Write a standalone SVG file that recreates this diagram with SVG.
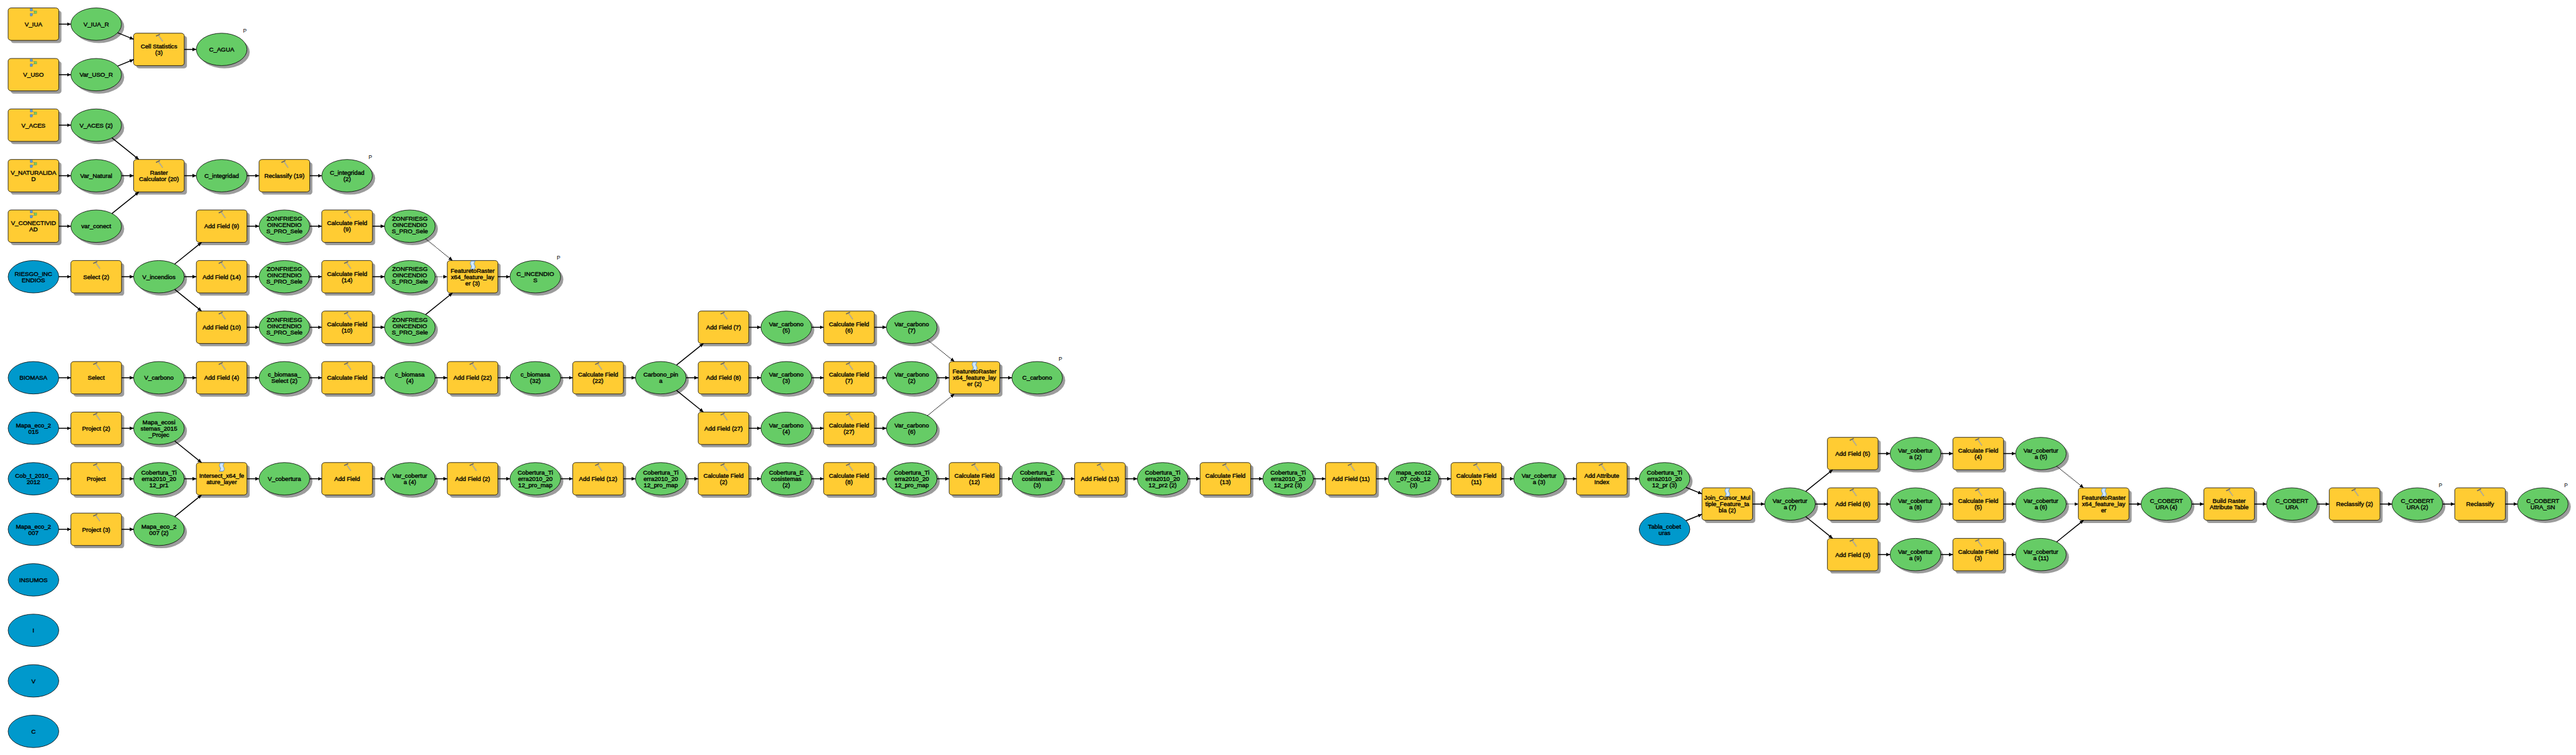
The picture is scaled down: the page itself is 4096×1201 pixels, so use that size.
<svg xmlns="http://www.w3.org/2000/svg" width="4096" height="1201" viewBox="0 0 4096 1201">
<style>
text{font-family:"Liberation Sans",Arial,sans-serif;font-size:9.7px;fill:#000;stroke:#000;stroke-width:.38;text-anchor:middle}
.p{font-size:8.5px;stroke:none}
.c{fill:none;stroke:#000;stroke-width:1.5;marker-end:url(#a)}
.d{fill:none;stroke:#000;stroke-width:1.1;stroke-dasharray:1.4 1;marker-end:url(#a)}
.l{stroke:#000;stroke-width:.8}
.sh{fill:#9c9c9c}
</style>
<defs>
<marker id="a" markerUnits="userSpaceOnUse" markerWidth="7" markerHeight="7" refX="6.2" refY="3.5" orient="auto"><path d="M0 .6L6.2 3.5L0 6.4z" fill="#000"/></marker>
<g id="R"><rect class="sh" x="-36" y="-21.5" width="80.5" height="51.6" rx="5" ry="4"/><rect class="l" x="-40.25" y="-25.8" width="80.5" height="51.6" rx="5" ry="4" fill="#fc3"/></g>
<g id="E"><ellipse class="sh" cx="4.3" cy="4.3" rx="40.25" ry="25.8"/><ellipse class="l" rx="40.25" ry="25.8" fill="#6c6"/></g>
<g id="B"><ellipse class="l" rx="40.25" ry="25.8" fill="#09c"/></g>
<g id="TH"><use href="#R"/><path d="M-.4-22L6-12.9" stroke="#8a8a8a" stroke-width="1.5" fill="none"/><path d="M-.1-21.6L5.9-13.2" stroke="#e8e8e8" stroke-width=".5" fill="none"/><path d="M-4.7-21.1L1.7-24.2" stroke="#666" stroke-width="1.7" fill="none"/></g>
<g id="TS"><use href="#R"/><path d="M-2-25h6l-1.5 3q-1 2 1 4q2 3-1 6h-6l1.5-3q1-2-1-4q-2-3 1-6z" fill="#cfe6ff" stroke="#3a7fd5" stroke-width=".8"/></g>
<g id="TM"><use href="#R"/><path d="M-3.5-23.5L3-19L-3.5-14.5" stroke="#777" stroke-width=".7" fill="none"/><rect x="-5.2" y="-25" width="3.4" height="4" fill="#5a9be0" stroke="#2c5f9e" stroke-width=".4"/><rect x="-5.2" y="-17" width="3.4" height="4" fill="#5a9be0" stroke="#2c5f9e" stroke-width=".4"/><rect x="1.4" y="-21" width="3.6" height="4" fill="#7c6" stroke="#4a8a3a" stroke-width=".4"/></g>
</defs>
<rect width="4096" height="1201" fill="#fff"/>
<g id="nodes">
<g id="V_IUA" transform="translate(53.2 38.4)"><use href="#TM"/><text y="3.5">V_IUA</text></g>
<g id="V_IUA_R" transform="translate(152.95 38.4)"><use href="#E"/><text y="3.5">V_IUA_R</text></g>
<g id="Cell_Statistics_3" transform="translate(252.7 78.6)"><use href="#TH"/><text><tspan x="0" y="-1.5">Cell Statistics</tspan><tspan x="0" y="8.5">(3)</tspan></text></g>
<g id="C_AGUA" transform="translate(352.45 78.6)"><use href="#E"/><text y="3.5">C_AGUA</text><text class="p" x="37" y="-27">P</text></g>
<g id="V_USO" transform="translate(53.2 118.8)"><use href="#TM"/><text y="3.5">V_USO</text></g>
<g id="Var_USO_R" transform="translate(152.95 118.8)"><use href="#E"/><text y="3.5">Var_USO_R</text></g>
<g id="V_ACES" transform="translate(53.2 199.1)"><use href="#TM"/><text y="3.5">V_ACES</text></g>
<g id="V_ACES_2" transform="translate(152.95 199.1)"><use href="#E"/><text y="3.5">V_ACES (2)</text></g>
<g id="V_NATURALIDAD" transform="translate(53.2 279.5)"><use href="#TM"/><text><tspan x="0" y="-1.5">V_NATURALIDA</tspan><tspan x="0" y="8.5">D</tspan></text></g>
<g id="Var_Natural" transform="translate(152.95 279.5)"><use href="#E"/><text y="3.5">Var_Natural</text></g>
<g id="Raster_Calculator_20" transform="translate(252.7 279.5)"><use href="#TH"/><text><tspan x="0" y="-1.5">Raster</tspan><tspan x="0" y="8.5">Calculator (20)</tspan></text></g>
<g id="C_integridad" transform="translate(352.45 279.5)"><use href="#E"/><text y="3.5">C_integridad</text></g>
<g id="Reclassify_19" transform="translate(452.2 279.5)"><use href="#TH"/><text y="3.5">Reclassify (19)</text></g>
<g id="C_integridad_2" transform="translate(551.95 279.5)"><use href="#E"/><text><tspan x="0" y="-1.5">C_integridad</tspan><tspan x="0" y="8.5">(2)</tspan></text><text class="p" x="37" y="-27">P</text></g>
<g id="V_CONECTIVIDAD" transform="translate(53.2 359.8)"><use href="#TM"/><text><tspan x="0" y="-1.5">V_CONECTIVID</tspan><tspan x="0" y="8.5">AD</tspan></text></g>
<g id="var_conect" transform="translate(152.95 359.8)"><use href="#E"/><text y="3.5">var_conect</text></g>
<g id="Add_Field_9" transform="translate(352.45 359.8)"><use href="#TH"/><text y="3.5">Add Field (9)</text></g>
<g id="ZONF_a1" transform="translate(452.2 359.8)"><use href="#E"/><text><tspan x="0" y="-9">ZONFRIESG</tspan><tspan x="0" y="1">OINCENDIO</tspan><tspan x="0" y="11">S_PRO_Sele</tspan></text></g>
<g id="Calculate_Field_9" transform="translate(551.95 359.8)"><use href="#TH"/><text><tspan x="0" y="-1.5">Calculate Field</tspan><tspan x="0" y="8.5">(9)</tspan></text></g>
<g id="ZONF_a2" transform="translate(651.7 359.8)"><use href="#E"/><text><tspan x="0" y="-9">ZONFRIESG</tspan><tspan x="0" y="1">OINCENDIO</tspan><tspan x="0" y="11">S_PRO_Sele</tspan></text></g>
<g id="RIESGO_INCENDIOS" transform="translate(53.2 440.2)"><use href="#B"/><text><tspan x="0" y="-1.5">RIESGO_INC</tspan><tspan x="0" y="8.5">ENDIOS</tspan></text></g>
<g id="Select_2" transform="translate(152.95 440.2)"><use href="#TH"/><text y="3.5">Select (2)</text></g>
<g id="V_incendios" transform="translate(252.7 440.2)"><use href="#E"/><text y="3.5">V_incendios</text></g>
<g id="Add_Field_14" transform="translate(352.45 440.2)"><use href="#TH"/><text y="3.5">Add Field (14)</text></g>
<g id="ZONF_b1" transform="translate(452.2 440.2)"><use href="#E"/><text><tspan x="0" y="-9">ZONFRIESG</tspan><tspan x="0" y="1">OINCENDIO</tspan><tspan x="0" y="11">S_PRO_Sele</tspan></text></g>
<g id="Calculate_Field_14" transform="translate(551.95 440.2)"><use href="#TH"/><text><tspan x="0" y="-1.5">Calculate Field</tspan><tspan x="0" y="8.5">(14)</tspan></text></g>
<g id="ZONF_b2" transform="translate(651.7 440.2)"><use href="#E"/><text><tspan x="0" y="-9">ZONFRIESG</tspan><tspan x="0" y="1">OINCENDIO</tspan><tspan x="0" y="11">S_PRO_Sele</tspan></text></g>
<g id="FeaturetoRaster_3" transform="translate(751.45 440.2)"><use href="#TS"/><text><tspan x="0" y="-6.5">FeaturetoRaster</tspan><tspan x="0" y="3.5">x64_feature_lay</tspan><tspan x="0" y="13.5">er (3)</tspan></text></g>
<g id="C_INCENDIOS" transform="translate(851.2 440.2)"><use href="#E"/><text><tspan x="0" y="-1.5">C_INCENDIO</tspan><tspan x="0" y="8.5">S</tspan></text><text class="p" x="37" y="-27">P</text></g>
<g id="Add_Field_10" transform="translate(352.45 520.6)"><use href="#TH"/><text y="3.5">Add Field (10)</text></g>
<g id="ZONF_c1" transform="translate(452.2 520.6)"><use href="#E"/><text><tspan x="0" y="-9">ZONFRIESG</tspan><tspan x="0" y="1">OINCENDIO</tspan><tspan x="0" y="11">S_PRO_Sele</tspan></text></g>
<g id="Calculate_Field_10" transform="translate(551.95 520.6)"><use href="#TH"/><text><tspan x="0" y="-1.5">Calculate Field</tspan><tspan x="0" y="8.5">(10)</tspan></text></g>
<g id="ZONF_c2" transform="translate(651.7 520.6)"><use href="#E"/><text><tspan x="0" y="-9">ZONFRIESG</tspan><tspan x="0" y="1">OINCENDIO</tspan><tspan x="0" y="11">S_PRO_Sele</tspan></text></g>
<g id="Add_Field_7" transform="translate(1150.45 520.6)"><use href="#TH"/><text y="3.5">Add Field (7)</text></g>
<g id="Var_carbono_5" transform="translate(1250.2 520.6)"><use href="#E"/><text><tspan x="0" y="-1.5">Var_carbono</tspan><tspan x="0" y="8.5">(5)</tspan></text></g>
<g id="Calculate_Field_6" transform="translate(1349.95 520.6)"><use href="#TH"/><text><tspan x="0" y="-1.5">Calculate Field</tspan><tspan x="0" y="8.5">(6)</tspan></text></g>
<g id="Var_carbono_7" transform="translate(1449.7 520.6)"><use href="#E"/><text><tspan x="0" y="-1.5">Var_carbono</tspan><tspan x="0" y="8.5">(7)</tspan></text></g>
<g id="BIOMASA" transform="translate(53.2 600.9)"><use href="#B"/><text y="3.5">BIOMASA</text></g>
<g id="Select" transform="translate(152.95 600.9)"><use href="#TH"/><text y="3.5">Select</text></g>
<g id="V_carbono" transform="translate(252.7 600.9)"><use href="#E"/><text y="3.5">V_carbono</text></g>
<g id="Add_Field_4" transform="translate(352.45 600.9)"><use href="#TH"/><text y="3.5">Add Field (4)</text></g>
<g id="c_biomasa_Select_2" transform="translate(452.2 600.9)"><use href="#E"/><text><tspan x="0" y="-1.5">c_biomasa_</tspan><tspan x="0" y="8.5">Select (2)</tspan></text></g>
<g id="Calculate_Field" transform="translate(551.95 600.9)"><use href="#TH"/><text y="3.5">Calculate Field</text></g>
<g id="c_biomasa_4" transform="translate(651.7 600.9)"><use href="#E"/><text><tspan x="0" y="-1.5">c_biomasa</tspan><tspan x="0" y="8.5">(4)</tspan></text></g>
<g id="Add_Field_22" transform="translate(751.45 600.9)"><use href="#TH"/><text y="3.5">Add Field (22)</text></g>
<g id="c_biomasa_32" transform="translate(851.2 600.9)"><use href="#E"/><text><tspan x="0" y="-1.5">c_biomasa</tspan><tspan x="0" y="8.5">(32)</tspan></text></g>
<g id="Calculate_Field_22" transform="translate(950.95 600.9)"><use href="#TH"/><text><tspan x="0" y="-1.5">Calculate Field</tspan><tspan x="0" y="8.5">(22)</tspan></text></g>
<g id="Carbono_pina" transform="translate(1050.7 600.9)"><use href="#E"/><text><tspan x="0" y="-1.5">Carbono_pin</tspan><tspan x="0" y="8.5">a</tspan></text></g>
<g id="Add_Field_8" transform="translate(1150.45 600.9)"><use href="#TH"/><text y="3.5">Add Field (8)</text></g>
<g id="Var_carbono_3" transform="translate(1250.2 600.9)"><use href="#E"/><text><tspan x="0" y="-1.5">Var_carbono</tspan><tspan x="0" y="8.5">(3)</tspan></text></g>
<g id="Calculate_Field_7" transform="translate(1349.95 600.9)"><use href="#TH"/><text><tspan x="0" y="-1.5">Calculate Field</tspan><tspan x="0" y="8.5">(7)</tspan></text></g>
<g id="Var_carbono_2" transform="translate(1449.7 600.9)"><use href="#E"/><text><tspan x="0" y="-1.5">Var_carbono</tspan><tspan x="0" y="8.5">(2)</tspan></text></g>
<g id="FeaturetoRaster_2" transform="translate(1549.45 600.9)"><use href="#TS"/><text><tspan x="0" y="-6.5">FeaturetoRaster</tspan><tspan x="0" y="3.5">x64_feature_lay</tspan><tspan x="0" y="13.5">er (2)</tspan></text></g>
<g id="C_carbono" transform="translate(1649.2 600.9)"><use href="#E"/><text y="3.5">C_carbono</text><text class="p" x="37" y="-27">P</text></g>
<g id="Mapa_eco_2015" transform="translate(53.2 681.3)"><use href="#B"/><text><tspan x="0" y="-1.5">Mapa_eco_2</tspan><tspan x="0" y="8.5">015</tspan></text></g>
<g id="Project_2" transform="translate(152.95 681.3)"><use href="#TH"/><text y="3.5">Project (2)</text></g>
<g id="Mapa_ecosistemas_2015_Projec" transform="translate(252.7 681.3)"><use href="#E"/><text><tspan x="0" y="-6.5">Mapa_ecosi</tspan><tspan x="0" y="3.5">stemas_2015</tspan><tspan x="0" y="13.5">_Projec</tspan></text></g>
<g id="Add_Field_27" transform="translate(1150.45 681.3)"><use href="#TH"/><text y="3.5">Add Field (27)</text></g>
<g id="Var_carbono_4" transform="translate(1250.2 681.3)"><use href="#E"/><text><tspan x="0" y="-1.5">Var_carbono</tspan><tspan x="0" y="8.5">(4)</tspan></text></g>
<g id="Calculate_Field_27" transform="translate(1349.95 681.3)"><use href="#TH"/><text><tspan x="0" y="-1.5">Calculate Field</tspan><tspan x="0" y="8.5">(27)</tspan></text></g>
<g id="Var_carbono_6" transform="translate(1449.7 681.3)"><use href="#E"/><text><tspan x="0" y="-1.5">Var_carbono</tspan><tspan x="0" y="8.5">(6)</tspan></text></g>
<g id="Cob_t_2010_2012" transform="translate(53.2 761.6)"><use href="#B"/><text><tspan x="0" y="-1.5">Cob_t_2010_</tspan><tspan x="0" y="8.5">2012</tspan></text></g>
<g id="Project" transform="translate(152.95 761.6)"><use href="#TH"/><text y="3.5">Project</text></g>
<g id="Cobertura_pr1" transform="translate(252.7 761.6)"><use href="#E"/><text><tspan x="0" y="-6.5">Cobertura_Ti</tspan><tspan x="0" y="3.5">erra2010_20</tspan><tspan x="0" y="13.5">12_pr1</tspan></text></g>
<g id="Intersect" transform="translate(352.45 761.6)"><use href="#TS"/><text><tspan x="0" y="-1.5">Intersect_x64_fe</tspan><tspan x="0" y="8.5">ature_layer</tspan></text></g>
<g id="V_cobertura" transform="translate(452.2 761.6)"><use href="#E"/><text y="3.5">V_cobertura</text></g>
<g id="Add_Field" transform="translate(551.95 761.6)"><use href="#TH"/><text y="3.5">Add Field</text></g>
<g id="Var_cobertura_4" transform="translate(651.7 761.6)"><use href="#E"/><text><tspan x="0" y="-1.5">Var_cobertur</tspan><tspan x="0" y="8.5">a (4)</tspan></text></g>
<g id="Add_Field_2" transform="translate(751.45 761.6)"><use href="#TH"/><text y="3.5">Add Field (2)</text></g>
<g id="Cobertura_map_a" transform="translate(851.2 761.6)"><use href="#E"/><text><tspan x="0" y="-6.5">Cobertura_Ti</tspan><tspan x="0" y="3.5">erra2010_20</tspan><tspan x="0" y="13.5">12_pro_map</tspan></text></g>
<g id="Add_Field_12" transform="translate(950.95 761.6)"><use href="#TH"/><text y="3.5">Add Field (12)</text></g>
<g id="Cobertura_map_b" transform="translate(1050.7 761.6)"><use href="#E"/><text><tspan x="0" y="-6.5">Cobertura_Ti</tspan><tspan x="0" y="3.5">erra2010_20</tspan><tspan x="0" y="13.5">12_pro_map</tspan></text></g>
<g id="Calculate_Field_2" transform="translate(1150.45 761.6)"><use href="#TH"/><text><tspan x="0" y="-1.5">Calculate Field</tspan><tspan x="0" y="8.5">(2)</tspan></text></g>
<g id="Cobertura_Eco_2" transform="translate(1250.2 761.6)"><use href="#E"/><text><tspan x="0" y="-6.5">Cobertura_E</tspan><tspan x="0" y="3.5">cosistemas</tspan><tspan x="0" y="13.5">(2)</tspan></text></g>
<g id="Calculate_Field_8" transform="translate(1349.95 761.6)"><use href="#TH"/><text><tspan x="0" y="-1.5">Calculate Field</tspan><tspan x="0" y="8.5">(8)</tspan></text></g>
<g id="Cobertura_map_c" transform="translate(1449.7 761.6)"><use href="#E"/><text><tspan x="0" y="-6.5">Cobertura_Ti</tspan><tspan x="0" y="3.5">erra2010_20</tspan><tspan x="0" y="13.5">12_pro_map</tspan></text></g>
<g id="Calculate_Field_12" transform="translate(1549.45 761.6)"><use href="#TH"/><text><tspan x="0" y="-1.5">Calculate Field</tspan><tspan x="0" y="8.5">(12)</tspan></text></g>
<g id="Cobertura_Eco_3" transform="translate(1649.2 761.6)"><use href="#E"/><text><tspan x="0" y="-6.5">Cobertura_E</tspan><tspan x="0" y="3.5">cosistemas</tspan><tspan x="0" y="13.5">(3)</tspan></text></g>
<g id="Add_Field_13" transform="translate(1748.95 761.6)"><use href="#TH"/><text y="3.5">Add Field (13)</text></g>
<g id="Cobertura_pr2_2" transform="translate(1848.7 761.6)"><use href="#E"/><text><tspan x="0" y="-6.5">Cobertura_Ti</tspan><tspan x="0" y="3.5">erra2010_20</tspan><tspan x="0" y="13.5">12_pr2 (2)</tspan></text></g>
<g id="Calculate_Field_13" transform="translate(1948.45 761.6)"><use href="#TH"/><text><tspan x="0" y="-1.5">Calculate Field</tspan><tspan x="0" y="8.5">(13)</tspan></text></g>
<g id="Cobertura_pr2_3" transform="translate(2048.2 761.6)"><use href="#E"/><text><tspan x="0" y="-6.5">Cobertura_Ti</tspan><tspan x="0" y="3.5">erra2010_20</tspan><tspan x="0" y="13.5">12_pr2 (3)</tspan></text></g>
<g id="Add_Field_11" transform="translate(2147.95 761.6)"><use href="#TH"/><text y="3.5">Add Field (11)</text></g>
<g id="mapa_eco12_07_cob_12_3" transform="translate(2247.7 761.6)"><use href="#E"/><text><tspan x="0" y="-6.5">mapa_eco12</tspan><tspan x="0" y="3.5">_07_cob_12</tspan><tspan x="0" y="13.5">(3)</tspan></text></g>
<g id="Calculate_Field_11" transform="translate(2347.45 761.6)"><use href="#TH"/><text><tspan x="0" y="-1.5">Calculate Field</tspan><tspan x="0" y="8.5">(11)</tspan></text></g>
<g id="Var_cobertura_3" transform="translate(2447.2 761.6)"><use href="#E"/><text><tspan x="0" y="-1.5">Var_cobertur</tspan><tspan x="0" y="8.5">a (3)</tspan></text></g>
<g id="Add_Attribute_Index" transform="translate(2546.95 761.6)"><use href="#TH"/><text><tspan x="0" y="-1.5">Add Attribute</tspan><tspan x="0" y="8.5">Index</tspan></text></g>
<g id="Cobertura_pr_3" transform="translate(2646.7 761.6)"><use href="#E"/><text><tspan x="0" y="-6.5">Cobertura_Ti</tspan><tspan x="0" y="3.5">erra2010_20</tspan><tspan x="0" y="13.5">12_pr (3)</tspan></text></g>
<g id="Mapa_eco_2007" transform="translate(53.2 842)"><use href="#B"/><text><tspan x="0" y="-1.5">Mapa_eco_2</tspan><tspan x="0" y="8.5">007</tspan></text></g>
<g id="Project_3" transform="translate(152.95 842)"><use href="#TH"/><text y="3.5">Project (3)</text></g>
<g id="Mapa_eco_2007_2" transform="translate(252.7 842)"><use href="#E"/><text><tspan x="0" y="-1.5">Mapa_eco_2</tspan><tspan x="0" y="8.5">007 (2)</tspan></text></g>
<g id="Tabla_cobeturas" transform="translate(2646.7 842)"><use href="#B"/><text><tspan x="0" y="-1.5">Tabla_cobet</tspan><tspan x="0" y="8.5">uras</tspan></text></g>
<g id="Join_Cursor" transform="translate(2746.45 801.8)"><use href="#TS"/><text><tspan x="0" y="-6.5">Join_Cursor_Mul</tspan><tspan x="0" y="3.5">tiple_Feature_ta</tspan><tspan x="0" y="13.5">bla (2)</tspan></text></g>
<g id="Var_cobertura_7" transform="translate(2846.2 801.8)"><use href="#E"/><text><tspan x="0" y="-1.5">Var_cobertur</tspan><tspan x="0" y="8.5">a (7)</tspan></text></g>
<g id="Add_Field_5" transform="translate(2945.95 721.5)"><use href="#TH"/><text y="3.5">Add Field (5)</text></g>
<g id="Var_cobertura_2" transform="translate(3045.7 721.5)"><use href="#E"/><text><tspan x="0" y="-1.5">Var_cobertur</tspan><tspan x="0" y="8.5">a (2)</tspan></text></g>
<g id="Calculate_Field_4" transform="translate(3145.45 721.5)"><use href="#TH"/><text><tspan x="0" y="-1.5">Calculate Field</tspan><tspan x="0" y="8.5">(4)</tspan></text></g>
<g id="Var_cobertura_5" transform="translate(3245.2 721.5)"><use href="#E"/><text><tspan x="0" y="-1.5">Var_cobertur</tspan><tspan x="0" y="8.5">a (5)</tspan></text></g>
<g id="Add_Field_6" transform="translate(2945.95 801.8)"><use href="#TH"/><text y="3.5">Add Field (6)</text></g>
<g id="Var_cobertura_8" transform="translate(3045.7 801.8)"><use href="#E"/><text><tspan x="0" y="-1.5">Var_cobertur</tspan><tspan x="0" y="8.5">a (8)</tspan></text></g>
<g id="Calculate_Field_5" transform="translate(3145.45 801.8)"><use href="#TH"/><text><tspan x="0" y="-1.5">Calculate Field</tspan><tspan x="0" y="8.5">(5)</tspan></text></g>
<g id="Var_cobertura_6" transform="translate(3245.2 801.8)"><use href="#E"/><text><tspan x="0" y="-1.5">Var_cobertur</tspan><tspan x="0" y="8.5">a (6)</tspan></text></g>
<g id="Add_Field_3" transform="translate(2945.95 882.2)"><use href="#TH"/><text y="3.5">Add Field (3)</text></g>
<g id="Var_cobertura_9" transform="translate(3045.7 882.2)"><use href="#E"/><text><tspan x="0" y="-1.5">Var_cobertur</tspan><tspan x="0" y="8.5">a (9)</tspan></text></g>
<g id="Calculate_Field_3" transform="translate(3145.45 882.2)"><use href="#TH"/><text><tspan x="0" y="-1.5">Calculate Field</tspan><tspan x="0" y="8.5">(3)</tspan></text></g>
<g id="Var_cobertura_11" transform="translate(3245.2 882.2)"><use href="#E"/><text><tspan x="0" y="-1.5">Var_cobertur</tspan><tspan x="0" y="8.5">a (11)</tspan></text></g>
<g id="FeaturetoRaster" transform="translate(3344.95 801.8)"><use href="#TS"/><text><tspan x="0" y="-6.5">FeaturetoRaster</tspan><tspan x="0" y="3.5">x64_feature_lay</tspan><tspan x="0" y="13.5">er</tspan></text></g>
<g id="C_COBERTURA_4" transform="translate(3444.7 801.8)"><use href="#E"/><text><tspan x="0" y="-1.5">C_COBERT</tspan><tspan x="0" y="8.5">URA (4)</tspan></text></g>
<g id="Build_Raster_Attribute_Table" transform="translate(3544.45 801.8)"><use href="#TH"/><text><tspan x="0" y="-1.5">Build Raster</tspan><tspan x="0" y="8.5">Attribute Table</tspan></text></g>
<g id="C_COBERTURA" transform="translate(3644.2 801.8)"><use href="#E"/><text><tspan x="0" y="-1.5">C_COBERT</tspan><tspan x="0" y="8.5">URA</tspan></text></g>
<g id="Reclassify_2" transform="translate(3743.95 801.8)"><use href="#TH"/><text y="3.5">Reclassify (2)</text></g>
<g id="C_COBERTURA_2" transform="translate(3843.7 801.8)"><use href="#E"/><text><tspan x="0" y="-1.5">C_COBERT</tspan><tspan x="0" y="8.5">URA (2)</tspan></text><text class="p" x="37" y="-27">P</text></g>
<g id="Reclassify" transform="translate(3943.45 801.8)"><use href="#TH"/><text y="3.5">Reclassify</text></g>
<g id="C_COBERTURA_SN" transform="translate(4043.2 801.8)"><use href="#E"/><text><tspan x="0" y="-1.5">C_COBERT</tspan><tspan x="0" y="8.5">URA_SN</tspan></text><text class="p" x="37" y="-27">P</text></g>
<g id="INSUMOS" transform="translate(53.2 922.4)"><use href="#B"/><text y="3.5">INSUMOS</text></g>
<g id="I" transform="translate(53.2 1002.7)"><use href="#B"/><text y="3.5">I</text></g>
<g id="V" transform="translate(53.2 1083.1)"><use href="#B"/><text y="3.5">V</text></g>
<g id="C" transform="translate(53.2 1163.4)"><use href="#B"/><text y="3.5">C</text></g>
</g>
<g id="connectors">
<path class="c" d="M93.5 38.4H112.7"/>
<path class="c" d="M93.5 118.8H112.7"/>
<path class="c" d="M187.05 52.1L212.45 62.4"/>
<path class="c" d="M187.05 105.1L212.45 94.8"/>
<path class="c" d="M293 78.6H312.2"/>
<path class="c" d="M93.5 199.1H112.7"/>
<path class="c" d="M93.5 279.5H112.7"/>
<path class="c" d="M193.2 279.5H212.5"/>
<path class="c" d="M293 279.5H312.2"/>
<path class="c" d="M392.7 279.5H412"/>
<path class="c" d="M492.5 279.5H511.7"/>
<path class="c" d="M93.5 359.8H112.7"/>
<path class="c" d="M178.05 219.3L220.7 253.7"/>
<path class="c" d="M178.05 339.6L220.7 305.3"/>
<path class="c" d="M392.7 359.8H412"/>
<path class="c" d="M492.5 359.8H511.7"/>
<path class="c" d="M592.2 359.8H611.5"/>
<path class="c" d="M277.8 420L320.45 385.6"/>
<path class="c" d="M277.8 460.4L320.45 494.8"/>
<path class="c" d="M93.5 440.2H112.7"/>
<path class="c" d="M193.2 440.2H212.5"/>
<path class="c" d="M293 440.2H312.2"/>
<path class="c" d="M392.7 440.2H412"/>
<path class="c" d="M492.5 440.2H511.7"/>
<path class="c" d="M592.2 440.2H611.5"/>
<path class="d" d="M692 440.2H711.2"/>
<path class="c" d="M791.7 440.2H811"/>
<path class="c" d="M392.7 520.6H412"/>
<path class="c" d="M492.5 520.6H511.7"/>
<path class="c" d="M592.2 520.6H611.5"/>
<path class="d" d="M676.8 380L719.45 414.4"/>
<path class="c" d="M676.8 500.4L719.45 466"/>
<path class="c" d="M93.5 600.9H112.7"/>
<path class="c" d="M193.2 600.9H212.5"/>
<path class="c" d="M293 600.9H312.2"/>
<path class="c" d="M392.7 600.9H412"/>
<path class="c" d="M492.5 600.9H511.7"/>
<path class="c" d="M592.2 600.9H611.5"/>
<path class="c" d="M692 600.9H711.2"/>
<path class="c" d="M791.7 600.9H811"/>
<path class="c" d="M891.5 600.9H910.7"/>
<path class="c" d="M991.2 600.9H1010.5"/>
<path class="c" d="M1091 600.9H1110.2"/>
<path class="c" d="M1190.7 600.9H1210"/>
<path class="c" d="M1290.5 600.9H1309.7"/>
<path class="c" d="M1390.2 600.9H1409.5"/>
<path class="c" d="M1490 600.9H1509.2"/>
<path class="c" d="M1589.7 600.9H1609"/>
<path class="c" d="M1190.7 520.6H1210"/>
<path class="c" d="M1290.5 520.6H1309.7"/>
<path class="c" d="M1390.2 520.6H1409.5"/>
<path class="c" d="M1190.7 681.3H1210"/>
<path class="c" d="M1290.5 681.3H1309.7"/>
<path class="c" d="M1390.2 681.3H1409.5"/>
<path class="c" d="M1075.8 580.7L1118.45 546.4"/>
<path class="c" d="M1075.8 621.1L1118.45 655.5"/>
<path class="d" d="M1474.8 540.8L1517.45 575.1"/>
<path class="d" d="M1474.8 661.1L1517.45 626.7"/>
<path class="c" d="M93.5 681.3H112.7"/>
<path class="c" d="M193.2 681.3H212.5"/>
<path class="c" d="M277.8 701.5L320.45 735.8"/>
<path class="c" d="M277.8 821.8L320.45 787.4"/>
<path class="c" d="M93.5 842H112.7"/>
<path class="c" d="M193.2 842H212.5"/>
<path class="c" d="M93.5 761.6H112.7"/>
<path class="c" d="M193.2 761.6H212.5"/>
<path class="c" d="M293 761.6H312.2"/>
<path class="c" d="M392.7 761.6H412"/>
<path class="c" d="M492.5 761.6H511.7"/>
<path class="c" d="M592.2 761.6H611.5"/>
<path class="c" d="M692 761.6H711.2"/>
<path class="c" d="M791.7 761.6H811"/>
<path class="c" d="M891.5 761.6H910.7"/>
<path class="c" d="M991.2 761.6H1010.5"/>
<path class="c" d="M1091 761.6H1110.2"/>
<path class="c" d="M1190.7 761.6H1210"/>
<path class="c" d="M1290.5 761.6H1309.7"/>
<path class="c" d="M1390.2 761.6H1409.5"/>
<path class="c" d="M1490 761.6H1509.2"/>
<path class="c" d="M1589.7 761.6H1609"/>
<path class="c" d="M1689.5 761.6H1708.7"/>
<path class="c" d="M1789.2 761.6H1808.5"/>
<path class="c" d="M1889 761.6H1908.2"/>
<path class="c" d="M1988.7 761.6H2008"/>
<path class="c" d="M2088.5 761.6H2107.7"/>
<path class="c" d="M2188.2 761.6H2207.5"/>
<path class="c" d="M2288 761.6H2307.2"/>
<path class="c" d="M2387.7 761.6H2407"/>
<path class="c" d="M2487.5 761.6H2506.7"/>
<path class="c" d="M2587.2 761.6H2606.5"/>
<path class="c" d="M2680.8 775.3L2706.2 785.6"/>
<path class="c" d="M2680.8 828.3L2706.2 818"/>
<path class="c" d="M2786.7 801.8H2806"/>
<path class="c" d="M2886.5 801.8H2905.7"/>
<path class="c" d="M2986.2 801.8H3005.5"/>
<path class="c" d="M3086 801.8H3105.2"/>
<path class="c" d="M3185.7 801.8H3205"/>
<path class="d" d="M3285.5 801.8H3304.7"/>
<path class="c" d="M3385.2 801.8H3404.5"/>
<path class="c" d="M3485 801.8H3504.2"/>
<path class="c" d="M3584.7 801.8H3604"/>
<path class="c" d="M3684.5 801.8H3703.7"/>
<path class="c" d="M3784.2 801.8H3803.5"/>
<path class="c" d="M3884 801.8H3903.2"/>
<path class="c" d="M3983.7 801.8H4003"/>
<path class="c" d="M2986.2 721.5H3005.5"/>
<path class="c" d="M3086 721.5H3105.2"/>
<path class="c" d="M3185.7 721.5H3205"/>
<path class="c" d="M2986.2 882.2H3005.5"/>
<path class="c" d="M3086 882.2H3105.2"/>
<path class="c" d="M3185.7 882.2H3205"/>
<path class="c" d="M2871.3 781.6L2913.95 747.3"/>
<path class="c" d="M2871.3 822L2913.95 856.4"/>
<path class="d" d="M3270.3 741.7L3312.95 776"/>
<path class="c" d="M3270.3 862L3312.95 827.6"/>
</g>
</svg>
